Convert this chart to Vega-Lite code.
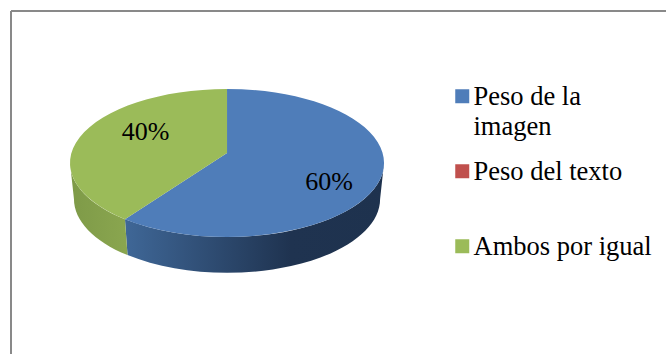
{
  "$schema": "https://vega.github.io/schema/vega-lite/v6.json",
  "width": 655,
  "height": 343,
  "autosize": "none",
  "padding": {"left": 11, "top": 11, "right": 0, "bottom": 0},
  "background": "white",
  "view": {"stroke": null},
  "config": {"font": "Liberation Serif"},
  "data": {
    "values": [
      {"categoria": "Peso de la imagen", "share": 60},
      {"categoria": "Peso del texto", "share": 0},
      {"categoria": "Ambos por igual", "share": 40}
    ]
  },
  "transform": [
    {"stack": "share", "groupby": [], "as": ["s0", "s1"]},
    {"calculate": "2*PI*datum.s0/100", "as": "a0"},
    {"calculate": "2*PI*datum.s1/100", "as": "a1"},
    {"calculate": "-0.135*cos(datum.a0)+sqrt(pow(0.135*cos(datum.a0),2)+0.9818)", "as": "t0"},
    {"calculate": "-0.135*cos(datum.a1)+sqrt(pow(0.135*cos(datum.a1),2)+0.9818)", "as": "t1"},
    {"calculate": "datum.t0*sin(datum.a0)", "as": "x0"},
    {"calculate": "-0.135-datum.t0*cos(datum.a0)", "as": "y0"},
    {"calculate": "datum.t1*sin(datum.a1)", "as": "x1"},
    {"calculate": "-0.135-datum.t1*cos(datum.a1)", "as": "y1"},
    {"calculate": "datum.a0<PI/2?1:datum.x0", "as": "sx"},
    {"calculate": "datum.a0<PI/2?0:datum.y0", "as": "sy"},
    {"calculate": "datum.a1>1.5*PI?-1:datum.x1", "as": "ex"},
    {"calculate": "datum.a1>1.5*PI?0:datum.y1", "as": "ey"},
    {"calculate": "'M0,-0.0637L'+datum.x0+','+(datum.y0*0.471)+'A1,0.471,0,'+(datum.a1-datum.a0>PI?1:0)+',1,'+datum.x1+','+(datum.y1*0.471)+'Z'", "as": "tapa"},
    {"calculate": "'M'+datum.sx+','+(datum.sy*0.471)+'A1,0.471,0,0,1,'+datum.ex+','+(datum.ey*0.471)+'L'+(datum.ex*0.975)+','+(datum.ey*0.471+0.229)+'A0.975,0.471,0,0,0,'+(datum.sx*0.975)+','+(datum.sy*0.471+0.229)+'Z'", "as": "pared"}
  ],
  "layer": [
    {
      "mark": {"type": "rule", "stroke": "#898989", "strokeWidth": 2},
      "encoding": {
        "x": {"datum": -1.376, "type": "quantitative", "scale": {"domain": [-1.376, 2.796], "nice": false, "zero": false}, "axis": null},
        "x2": {"datum": 2.796},
        "y": {"datum": 0.968, "type": "quantitative", "scale": {"domain": [-1.217, 0.968], "nice": false, "zero": false}, "axis": null}
      }
    },
    {
      "mark": {"type": "rule", "stroke": "#898989", "strokeWidth": 2},
      "encoding": {
        "x": {"datum": -1.376, "type": "quantitative", "axis": null},
        "y": {"datum": -1.217, "type": "quantitative", "axis": null},
        "y2": {"datum": 0.968}
      }
    },
    {
      "transform": [{"filter": "datum.categoria == 'Peso de la imagen'"}],
      "mark": {
        "type": "point", "filled": true, "opacity": 1, "size": 98596,
        "fill": {
          "gradient": "linear", "x1": 0, "x2": 1, "y1": 0, "y2": 0,
          "stops": [
            {"offset": 0, "color": "#3f6797"},
            {"offset": 0.64, "color": "#1f3350"},
            {"offset": 1, "color": "#1e324e"}
          ]
        }
      },
      "encoding": {
        "x": {"datum": 0, "type": "quantitative", "axis": null},
        "y": {"datum": 0, "type": "quantitative", "axis": null},
        "shape": {"field": "pared", "type": "nominal", "scale": null}
      }
    },
    {
      "transform": [{"filter": "datum.categoria == 'Ambos por igual'"}],
      "mark": {
        "type": "point", "filled": true, "opacity": 1, "size": 98596,
        "fill": {
          "gradient": "linear", "x1": 0, "x2": 1, "y1": 0, "y2": 0,
          "stops": [
            {"offset": 0, "color": "#7e9a48"},
            {"offset": 1, "color": "#8aa64f"}
          ]
        }
      },
      "encoding": {
        "x": {"datum": 0, "type": "quantitative", "axis": null},
        "y": {"datum": 0, "type": "quantitative", "axis": null},
        "shape": {"field": "pared", "type": "nominal", "scale": null}
      }
    },
    {
      "transform": [{"filter": "datum.share > 0"}],
      "mark": {"type": "point", "filled": true, "opacity": 1, "size": 98596},
      "encoding": {
        "x": {"datum": 0, "type": "quantitative", "axis": null},
        "y": {"datum": 0, "type": "quantitative", "axis": null},
        "shape": {"field": "tapa", "type": "nominal", "scale": null},
        "color": {
          "field": "categoria",
          "type": "nominal",
          "scale": {
            "domain": ["Peso de la imagen", "Peso del texto", "Ambos por igual"],
            "range": ["#4f7db9", "#c0504d", "#9bbb59"]
          },
          "legend": {
            "title": null,
            "orient": "none",
            "legendX": 438,
            "legendY": 72,
            "symbolType": "square",
            "symbolSize": 196,
            "symbolStrokeWidth": 0,
            "symbolOpacity": 1,
            "labelFont": "Liberation Serif",
            "labelFontSize": 26.5,
            "labelColor": "#000000",
            "labelLimit": 300,
            "labelOffset": -2,
            "labelBaseline": "alphabetic",
            "gridAlign": "all",
            "columns": 1,
            "rowPadding": 17,
            "labelExpr": "datum.label == 'Peso de la imagen' ? ['Peso de la', 'imagen'] : datum.label",
            "encode": {"labels": {"update": {"dy": {"value": 9}, "lineHeight": {"value": 30}}}}
          }
        }
      }
    },
    {
      "transform": [{"filter": "datum.categoria == 'Peso de la imagen'"}, {"calculate": "datum.share + '%'", "as": "etiqueta"}],
      "mark": {"type": "text", "font": "Liberation Serif", "fontSize": 26, "color": "#000000"},
      "encoding": {
        "x": {"datum": 0.65, "type": "quantitative", "axis": null},
        "y": {"datum": -0.121, "type": "quantitative", "axis": null},
        "text": {"field": "etiqueta", "type": "nominal"}
      }
    },
    {
      "transform": [{"filter": "datum.categoria == 'Ambos por igual'"}, {"calculate": "datum.share + '%'", "as": "etiqueta"}],
      "mark": {"type": "text", "font": "Liberation Serif", "fontSize": 26, "color": "#000000"},
      "encoding": {
        "x": {"datum": -0.519, "type": "quantitative", "axis": null},
        "y": {"datum": 0.197, "type": "quantitative", "axis": null},
        "text": {"field": "etiqueta", "type": "nominal"}
      }
    }
  ]
}
